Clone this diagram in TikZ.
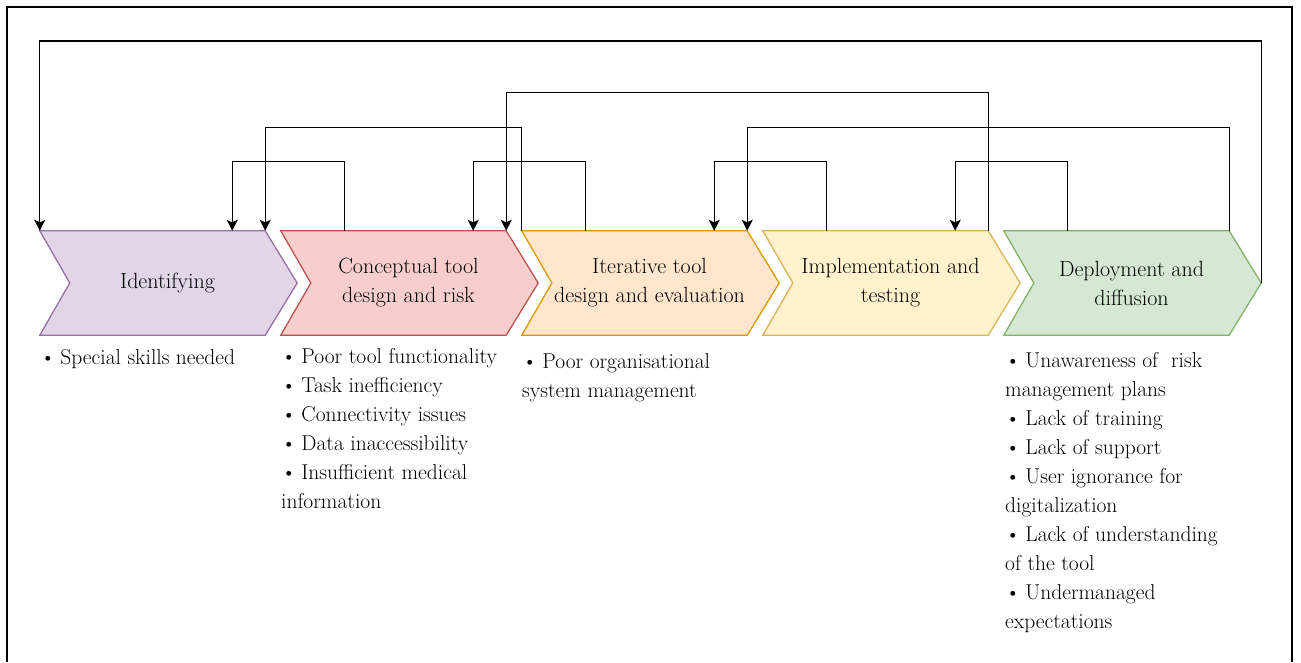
\documentclass[tikz,border=0pt]{standalone}
\usepackage{fontspec}
\usetikzlibrary{arrows.meta,backgrounds}

% stage colours (fill / stroke)
\definecolor{purpleF}{HTML}{E1D5E7}\definecolor{purpleD}{HTML}{9673A6}
\definecolor{redF}{HTML}{F8CECC}\definecolor{redD}{HTML}{B85450}
\definecolor{orangeF}{HTML}{FFE6CC}\definecolor{orangeD}{HTML}{D79B00}
\definecolor{yellowF}{HTML}{FFF2CC}\definecolor{yellowD}{HTML}{D6B656}
\definecolor{greenF}{HTML}{D5E8D4}\definecolor{greenD}{HTML}{82B366}

% bullet with a tight gap
\newcommand{\bul}{•\hspace{0.22em}}

\begin{document}
\begin{tikzpicture}[x=1pt,y=-1pt,
  stage/.style={minimum width=195pt, minimum height=104pt, inner sep=0pt,
    align=center, font=\fontsize{22}{29}\selectfont, text=black},
  notes/.style={anchor=north west, inner sep=0pt, align=left,
    font=\fontsize{21.5}{29}\selectfont, text=black},
  link/.style={line width=1.3pt, -{Stealth[length=11pt,width=11pt,inset=2.5pt]}},
  frame/.style={line width=2pt}]
\useasboundingbox (0,0) rectangle (1301,662);

% outer frame (open at the bottom)
\draw[frame] (7,662) -- (7,7) -- (1292,7) -- (1292,662);

% stage bodies (text area between notch and top-right corner)
\node[stage] (c1) at (167.5,283) {Identifying};
\node[stage] (c2) at (408.5,283) {Conceptual tool\\design and risk};
\node[stage] (c3) at (649.5,283) {Iterative tool\\design and evaluation};
\node[stage] (c4) at (890.5,283) {Implementation and\\testing};
\node[stage] (c5) at (1131.5,283) {Deployment and\\diffusion};

% chevron outlines and their corner points
\foreach \n/\f/\d in {c1/purpleF/purpleD, c2/redF/redD, c3/orangeF/orangeD,
                      c4/yellowF/yellowD, c5/greenF/greenD}{
  \coordinate (\n-tl) at ([xshift=-30]\n.north west);
  \coordinate (\n-tr) at (\n.north east);
  \coordinate (\n-tip) at ([xshift=32]\n.east);
  \begin{pgfonlayer}{background}
    \filldraw[fill=\f, draw=\d, line width=1.3pt, line join=miter]
      (\n-tl) -- (\n-tr) -- (\n-tip) -- (\n.south east)
      -- ([xshift=-30]\n.south west) -- (\n.west) -- cycle;
  \end{pgfonlayer}
}

% feedback loops between stages
\draw[link] (c5-tip) -- ++(0,-242) -| (c1-tl);
\draw[link] (c4-tr) -- ++(0,-138) -| (c2-tr);
\draw[link] (c3-tl) -- ++(0,-103) -| (c1-tr);
\draw[link] (c5-tr) -- ++(0,-103) -| (c3-tr);
\draw[link] ([xshift=34]c2.north west) -- ++(0,-69) -| ([xshift=-33]c1.north east);
\draw[link] ([xshift=34]c3.north west) -- ++(0,-69) -| ([xshift=-33]c2.north east);
\draw[link] ([xshift=34]c4.north west) -- ++(0,-69) -| ([xshift=-33]c3.north east);
\draw[link] ([xshift=34]c5.north west) -- ++(0,-69) -| ([xshift=-33]c4.north east);

% issues listed under each stage
\node[notes] (n1) at (40,343.7) {\strut\bul Special skills needed};
\node[notes] (n2) at (281,342.7) {\strut\bul Poor tool functionality\\\bul Task inefficiency\\\bul Connectivity issues\\\bul Data inaccessibility\\\bul Insufficient medical\\information};
\node[notes] (n3) at (522,347.7) {\strut\bul Poor organisational\\system management};
\node[notes] (n5) at (1005,346.7) {\strut\bul Unawareness of\ \ risk\\management plans\\\bul Lack of training\\\bul Lack of support\\\bul User ignorance for\\digitalization\\\bul Lack of understanding\\of the tool\\\bul Undermanaged\\expectations};
\end{tikzpicture}
\end{document}
